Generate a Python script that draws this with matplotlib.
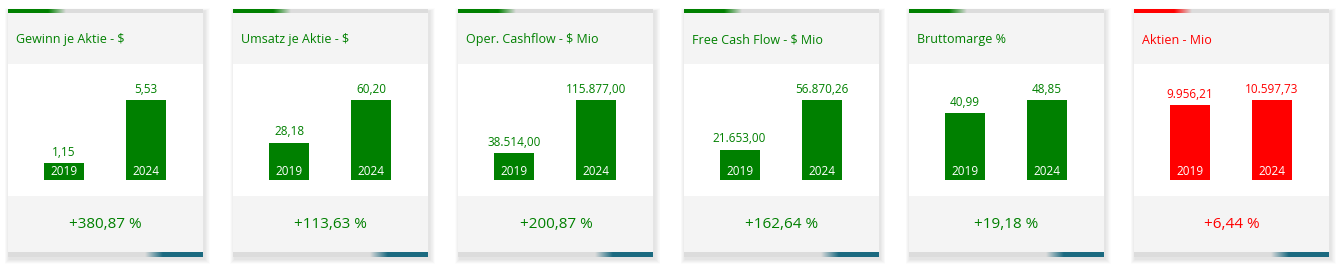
import numpy as np
import matplotlib.pyplot as plt
from matplotlib.patches import Rectangle

# data
titles = ["Gewinn je Aktie - $", "Umsatz je Aktie - $", "Oper. Cashflow - $ Mio",
          "Free Cash Flow - $ Mio", "Bruttomarge %", "Aktien - Mio"]
years = ["2019", "2024"]
values_2019 = [1.15, 28.18, 38514.00, 21653.00, 40.99, 9956.21]
values_2024 = [5.53, 60.20, 115877.00, 56870.26, 48.85, 10597.73]
colors = ["#008000", "#008000", "#008000", "#008000", "#008000", "#ff0000"]

plt.rcParams['font.family'] = ['Open Sans', 'DejaVu Sans']

W, H = 1341, 266
fig = plt.figure(figsize=(W / 100, H / 100), dpi=100)
fig.patch.set_facecolor("white")

bg = fig.add_axes([0, 0, 1, 1])
bg.set_xlim(0, W)
bg.set_ylim(H, 0)
bg.axis("off")


def de_fmt(v):
    s = f"{v:,.2f}"
    return s.replace(",", "X").replace(".", ",").replace("X", ".")


def hgrad(ax, x0, x1, y0, y1, c0, c1, z):
    c0 = np.array(plt.matplotlib.colors.to_rgb(c0))
    c1 = np.array(plt.matplotlib.colors.to_rgb(c1))
    t = np.linspace(0, 1, 64)[None, :, None]
    img = c0 + (c1 - c0) * t
    ax.imshow(img, extent=(x0, x1, y1, y0), aspect="auto", zorder=z, interpolation="bilinear")


card_w = 195
step = 225.2
top, head_b, body_b, foot_b = 13, 64, 196, 252

for i in range(6):
    x0 = 8 + i * step
    col = colors[i]

    # soft shadow, a bit more to the right and below
    for k in range(1, 10):
        bg.add_patch(Rectangle((x0 - k * 0.5 + 1.5, 9 - k * 0.3 + 2), card_w + k * 1.1, 248 + k * 0.8,
                               facecolor="black", alpha=0.01, edgecolor="none", zorder=1))

    # card sections
    bg.add_patch(Rectangle((x0, top), card_w, head_b - top, facecolor="#f4f4f4", edgecolor="none", zorder=2))
    bg.add_patch(Rectangle((x0, head_b), card_w, body_b - head_b, facecolor="white", edgecolor="none", zorder=2))
    bg.add_patch(Rectangle((x0, body_b), card_w, foot_b - body_b, facecolor="#f4f4f4", edgecolor="none", zorder=2))

    # top bar
    bg.add_patch(Rectangle((x0, 9), card_w, 4, facecolor="#dcdcdc", edgecolor="none", zorder=3))
    bg.add_patch(Rectangle((x0, 9), 40, 4, facecolor=col, edgecolor="none", zorder=4))
    hgrad(bg, x0 + 40, x0 + 58, 9, 13, col, "#dcdcdc", 4)

    # bottom bar
    bg.add_patch(Rectangle((x0, foot_b), card_w, 5, facecolor="#dcdcdc", edgecolor="none", zorder=3))
    bg.add_patch(Rectangle((x0 + 155, foot_b), card_w - 155, 5, facecolor="#1b6a80", edgecolor="none", zorder=4))
    hgrad(bg, x0 + 137, x0 + 155, foot_b, foot_b + 5, "#dcdcdc", "#1b6a80", 4)

    # title
    bg.text(x0 + 8, 40, titles[i], color=col, fontsize=9, va="center", ha="left", zorder=5)

    # change in percent
    pct = (values_2024[i] / values_2019[i] - 1) * 100
    bg.text(x0 + card_w / 2, 224, "+" + de_fmt(pct) + " %", color=col, fontsize=11,
            va="center", ha="center", zorder=5)

    # bar chart
    ax = fig.add_axes([x0 / W, 1 - 180 / H, card_w / W, 116 / H])
    ax.set_facecolor("none")
    vals = [values_2019[i], values_2024[i]]
    vmax = max(vals)
    bars = ax.bar([0, 1], vals, width=40 / 82, color=col)
    ax.set_xlim(-56 / 82, (card_w - 56) / 82)
    ax.set_ylim(0, vmax * 116 / 80)
    ax.axis("off")
    for b, v, yr in zip(bars, vals, years):
        cx = b.get_x() + b.get_width() / 2
        ax.annotate(de_fmt(v), (cx, v), xytext=(0, 3), textcoords="offset points",
                    ha="center", va="bottom", fontsize=8.5, color=col)
        ax.annotate(yr, (cx, 0), xytext=(0, 1.5), textcoords="offset points",
                    ha="center", va="bottom", fontsize=8.5, color="white")

fig.savefig("out.png", dpi=100)
